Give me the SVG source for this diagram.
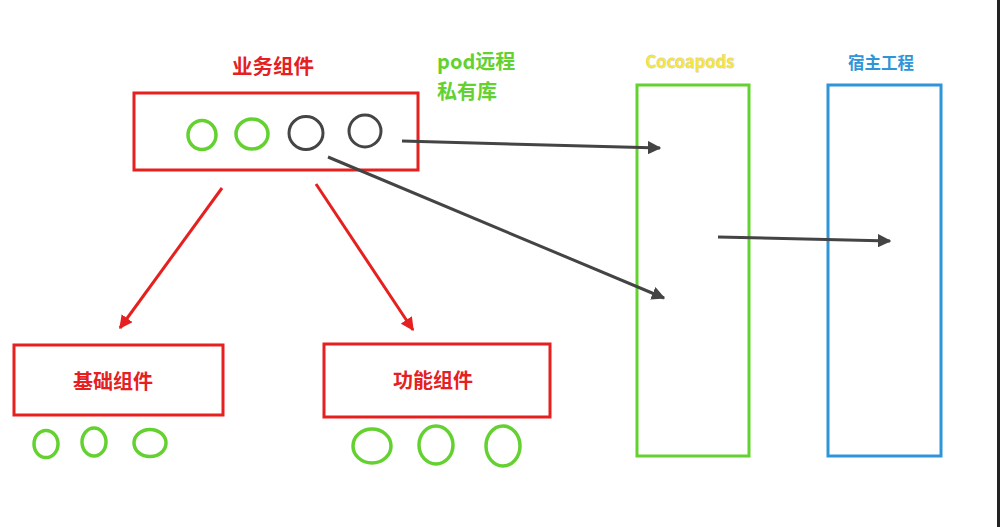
<svg xmlns="http://www.w3.org/2000/svg" width="1000" height="527" viewBox="0 0 1000 527">
<defs>
<style>
.box{fill:none;stroke-width:3}
.red{stroke:#e5201f}
.gc{fill:none;stroke:#63d130;stroke-width:3.5}
.dc{fill:none;stroke:#454545;stroke-width:3}
.lbl{font-family:"Noto Sans CJK SC","Liberation Sans",sans-serif;font-weight:bold}
.conn{fill:none;stroke-width:3}
</style>
<marker id="ad" viewBox="0 0 10 10" refX="9" refY="5" markerWidth="4.5" markerHeight="4.5" orient="auto" markerUnits="strokeWidth"><path d="M0,0 L10,5 L0,10 z" fill="#444"/></marker>
<marker id="ar" viewBox="0 0 10 10" refX="9" refY="5" markerWidth="4.5" markerHeight="4.5" orient="auto" markerUnits="strokeWidth"><path d="M0,0 L10,5 L0,10 z" fill="#e5201f"/></marker>
</defs>
<rect width="1000" height="527" fill="#fff"/>
<rect x="997" y="0" width="3" height="527" fill="#222"/>
<g id="biz">
<text class="lbl" x="273" y="74" font-size="20.5" fill="#e5201f" text-anchor="middle">业务组件</text>
<rect class="box red" x="134" y="93" width="284" height="77"/>
<ellipse class="gc" cx="202" cy="135" rx="14" ry="14.5"/>
<ellipse class="gc" cx="252" cy="134" rx="16" ry="15"/>
<ellipse class="dc" cx="306" cy="133" rx="17" ry="16.5"/>
<ellipse class="dc" cx="365" cy="131" rx="16" ry="16"/>
</g>
<g id="podlabel">
<text class="lbl" x="437" y="69" font-size="20" fill="#63d130">pod远程</text>
<text class="lbl" x="437" y="99" font-size="20" fill="#63d130">私有库</text>
</g>
<g id="cocoapods">
<text class="lbl" x="690" y="68" font-size="16.5" fill="#f5e53c" stroke="#cfcfcf" stroke-width="0.8" paint-order="stroke" text-anchor="middle">Cocoapods</text>
<rect class="box" stroke="#63d130" x="637" y="85" width="112" height="371"/>
</g>
<g id="host">
<text class="lbl" x="881" y="69" font-size="16.5" fill="#2f95d8" text-anchor="middle">宿主工程</text>
<rect class="box" stroke="#2f95d8" x="828" y="85" width="113" height="371"/>
</g>
<g id="base">
<rect class="box red" x="14" y="345" width="209" height="70"/>
<text class="lbl" x="113" y="389" font-size="20" fill="#e5201f" text-anchor="middle">基础组件</text>
<ellipse class="gc" cx="46" cy="444" rx="12" ry="13.5"/>
<ellipse class="gc" cx="94" cy="442" rx="12" ry="14"/>
<ellipse class="gc" cx="150" cy="443" rx="16" ry="13.5"/>
</g>
<g id="func">
<rect class="box red" x="324" y="344" width="226" height="73"/>
<text class="lbl" x="433" y="388" font-size="20" fill="#e5201f" text-anchor="middle">功能组件</text>
<ellipse class="gc" cx="372" cy="446" rx="19" ry="17"/>
<ellipse class="gc" cx="436" cy="445" rx="17" ry="19"/>
<ellipse class="gc" cx="503" cy="446" rx="17" ry="20"/>
</g>
<g id="connectors">
<line class="conn" stroke="#444" x1="402" y1="141" x2="660" y2="148" marker-end="url(#ad)"/>
<line class="conn" stroke="#444" x1="328" y1="157" x2="664" y2="298" marker-end="url(#ad)"/>
<line class="conn" stroke="#444" x1="718" y1="237" x2="890" y2="241" marker-end="url(#ad)"/>
<line class="conn" stroke="#e5201f" x1="222" y1="188" x2="120" y2="328" marker-end="url(#ar)"/>
<line class="conn" stroke="#e5201f" x1="316" y1="184" x2="413" y2="330" marker-end="url(#ar)"/>
</g>
</svg>
